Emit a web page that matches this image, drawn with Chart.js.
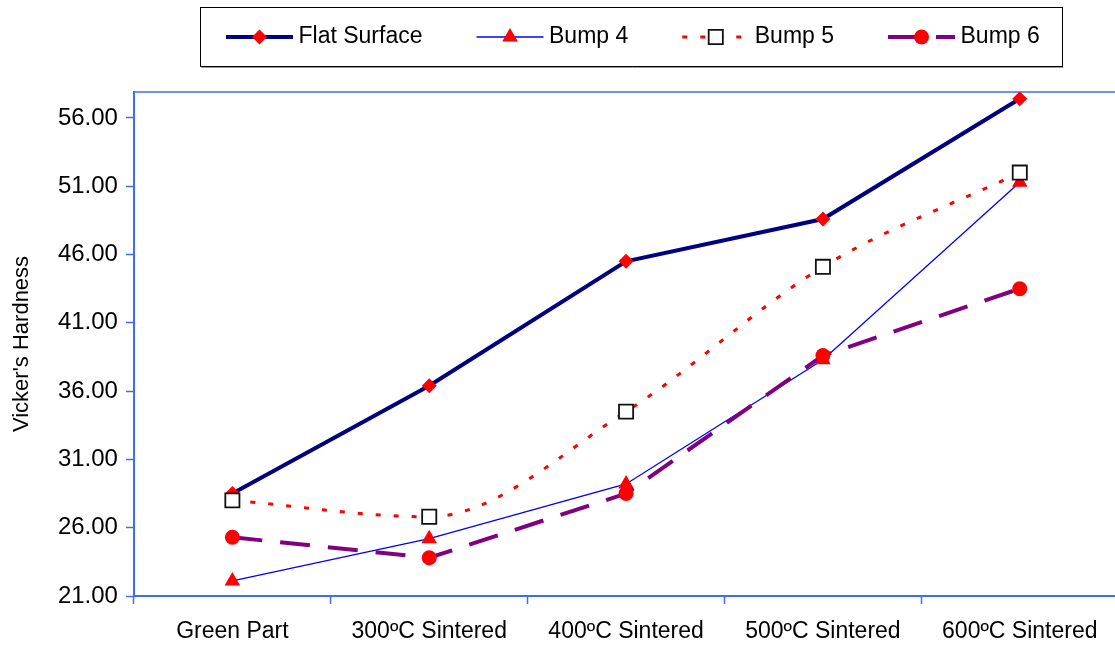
<!DOCTYPE html>
<html>
<head>
<meta charset="utf-8">
<script src="https://cdn.jsdelivr.net/npm/chart.js@4/dist/chart.umd.min.js"></script>
<style>
  html, body { margin: 0; padding: 0; background: #fff; overflow: hidden; }
  #wrap { width: 1130px; height: 645px; position: relative; }
</style>
</head>
<body>
<div id="wrap"><canvas id="myChart"></canvas></div>
<script>
const categories = ["Green Part", "300ºC Sintered", "400ºC Sintered", "500ºC Sintered", "600ºC Sintered"];

const flatSurface = [28.5, 36.4, 45.5, 48.6, 57.4];
const bump4 = [22.1, 25.2, 29.2, 38.3, 51.3];
const bump5 = [28.0, 26.8, 34.5, 45.1, 52.0];
const bump6 = [25.3, 23.8, 28.5, 38.6, 43.5];

const yTicks = [21, 26, 31, 36, 41, 46, 51, 56];
const yMin = 21;
const yMax = 57.9;

const axisBlue = "#3f6cff";

Chart.defaults.font.family = "'Liberation Sans', Arial, sans-serif";
Chart.defaults.color = "#000";

// legend sample length (line + marker drawn by hand)
const sampleLen = 67;

const decor = {
  id: "decor",
  // move the legend row to where the boxed legend sits
  afterLayout(chart) {
    const lg = chart.legend;
    if (!lg) return;
    const pad = lg.options.labels.padding;
    const dx = 226 - pad - lg.left;
    const dy = (37 - pad - 11.5) - lg.top;
    lg.left += dx; lg.right += dx;
    lg.top += dy; lg.bottom += dy;
  },
  // plot area frame
  beforeDatasetsDraw(chart) {
    const { ctx, chartArea } = chart;
    ctx.save();
    ctx.strokeStyle = axisBlue;
    ctx.lineWidth = 1.5;
    ctx.strokeRect(chartArea.left, chartArea.top, chartArea.right - chartArea.left, chartArea.bottom - chartArea.top);
    ctx.restore();
  },
  // legend frame + line/marker samples
  afterDraw(chart) {
    const lg = chart.legend;
    const ctx = chart.ctx;
    const boxes = lg.legendHitBoxes;
    if (!boxes.length) return;
    const first = boxes[0];
    const last = boxes[boxes.length - 1];
    const cy = first.top + first.height / 2;
    ctx.save();
    ctx.strokeStyle = "#000";
    ctx.lineWidth = 1;
    const bx = Math.round(first.left - 26) + 0.5;
    const by = Math.round(cy - 30) + 0.5;
    const bw = Math.round(last.left + last.width + 22 - (first.left - 26));
    ctx.strokeRect(bx, by, bw, 59);
    ctx.strokeStyle = "#9a9a9a";
    ctx.beginPath();
    ctx.moveTo(bx + 1, by + 60);
    ctx.lineTo(bx + bw + 1, by + 60);
    ctx.stroke();

    chart.data.datasets.forEach((ds, i) => {
      const hb = boxes[i];
      const y = hb.top + hb.height / 2;
      ctx.save();
      ctx.strokeStyle = ds.borderColor;
      ctx.lineWidth = ds.borderWidth;
      ctx.setLineDash(ds.borderDash || []);
      ctx.beginPath();
      ctx.moveTo(hb.left, y);
      ctx.lineTo(hb.left + sampleLen, y);
      ctx.stroke();
      ctx.setLineDash([]);
      ctx.fillStyle = ds.pointBackgroundColor;
      ctx.strokeStyle = ds.pointBorderColor;
      ctx.lineWidth = ds.pointBorderWidth;
      Chart.helpers.drawPoint(ctx, {
        pointStyle: ds.pointStyle,
        radius: ds.pointRadius,
        rotation: 0,
        borderWidth: ds.pointBorderWidth
      }, hb.left + sampleLen / 2, y);
      ctx.restore();
    });
    ctx.restore();
  }
};

const chartEl = document.getElementById("myChart");

var myChart = new Chart(chartEl, {
  type: "line",
  data: {
    labels: categories,
    datasets: [
      {
        label: "Flat Surface",
        data: flatSurface,
        borderColor: "#000080",
        borderWidth: 4,
        pointStyle: "rectRot",
        pointRadius: 7.5,
        pointBackgroundColor: "#ff0000",
        pointBorderColor: "#ff0000",
        pointBorderWidth: 0,
        order: 4,
      },
      {
        label: "Bump 4",
        data: bump4,
        borderColor: "#0000ff",
        borderWidth: 1.3,
        pointStyle: "triangle",
        pointRadius: 9,
        pointBackgroundColor: "#ff0000",
        pointBorderColor: "#ff0000",
        pointBorderWidth: 0,
        order: 3,
      },
      {
        label: "Bump 5",
        data: bump5,
        borderColor: "#ff0000",
        borderWidth: 3,
        borderDash: [5, 13],
        cubicInterpolationMode: "monotone",
        pointStyle: "rect",
        pointRadius: 10,
        pointBackgroundColor: "#ffffff",
        pointBorderColor: "#111111",
        pointBorderWidth: 1.8,
        order: 2,
      },
      {
        label: "Bump 6",
        data: bump6,
        borderColor: "#800080",
        borderWidth: 4,
        borderDash: [30, 18],
        pointStyle: "circle",
        pointRadius: 7.5,
        pointBackgroundColor: "#ff0000",
        pointBorderColor: "#ff0000",
        pointBorderWidth: 0,
        order: 1,
      },
    ],
  },
  options: {
    responsive: true,
    maintainAspectRatio: false,
    animation: false,
    layout: {
      padding: { top: 5, right: 2, bottom: -14.6, left: 0 },
    },
    plugins: {
      tooltip: { enabled: false },
      legend: {
        display: true,
        position: "top",
        align: "start",
        labels: {
          boxWidth: 61,
          padding: 54,
          font: { size: 23 },
          color: "#000",
          generateLabels(chart) {
            return chart.data.datasets.map((ds, i) => ({
              text: ds.label,
              fillStyle: "rgba(0,0,0,0)",
              strokeStyle: "rgba(0,0,0,0)",
              lineWidth: 0,
              hidden: false,
              datasetIndex: i,
              fontColor: "#000",
            }));
          },
        },
      },
    },
    scales: {
      x: {
        offset: true,
        grid: {
          offset: true,
          display: true,
          drawOnChartArea: false,
          tickLength: 8,
          tickColor: axisBlue,
          tickWidth: 1.5,
        },
        border: { color: axisBlue, width: 2 },
        ticks: {
          font: { size: 23 },
          color: "#000",
          padding: 14,
          maxRotation: 0,
          autoSkip: false,
        },
      },
      y: {
        min: yMin,
        max: yMax,
        afterBuildTicks(scale) {
          scale.ticks = yTicks.map((v) => ({ value: v }));
        },
        grid: {
          display: true,
          drawOnChartArea: false,
          tickLength: 8,
          tickColor: axisBlue,
          tickWidth: 1.5,
        },
        border: { color: axisBlue, width: 2 },
        ticks: {
          font: { size: 24 },
          color: "#000",
          padding: 8,
          callback: (v) => Number(v).toFixed(2),
        },
        title: {
          display: true,
          text: "Vicker's Hardness",
          font: { size: 22 },
          color: "#000",
          padding: { top: 9, bottom: 14.5 },
        },
      },
    },
  },
  plugins: [decor],
});
</script>
</body>
</html>
